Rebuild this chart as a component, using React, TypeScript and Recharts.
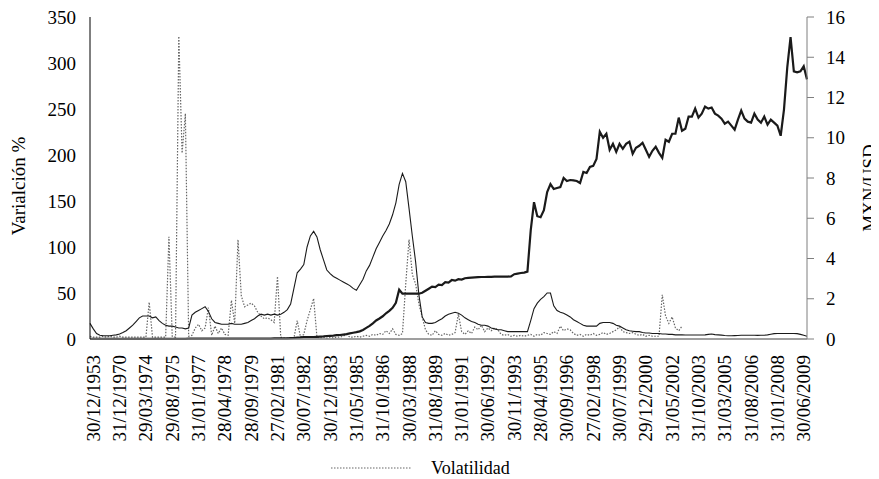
import { ComposedChart, Line, XAxis, YAxis, Legend } from 'recharts';

const FONT = '"Liberation Serif", "Times New Roman", Tinos, "DejaVu Serif", serif';

// fechas que se rotulan en el eje (una cada 8 observaciones)
const tickLabels = [
  '30/12/1953', '31/12/1970', '29/03/1974', '29/08/1975', '31/01/1977', '28/04/1978', '28/09/1979',
  '27/02/1981', '30/07/1982', '30/12/1983', '31/05/1985', '31/10/1986', '30/03/1988', '31/08/1989',
  '31/01/1991', '30/06/1992', '30/11/1993', '28/04/1995', '30/09/1996', '27/02/1998', '30/07/1999',
  '29/12/2000', '31/05/2002', '31/10/2003', '31/03/2005', '31/08/2006', '31/01/2008', '30/06/2009',
];

// variación % (eje izquierdo)
const variacion = [
  17, 11, 6, 4, 3.5, 3.5, 3.5, 4, 4.5, 5.5,
  7, 9, 12, 15, 19, 23, 25, 25, 25, 23,
  24, 20, 17, 15, 14, 14, 13, 12, 12, 11,
  12, 26, 29, 31, 33, 35, 30, 22, 18, 17,
  16, 16, 16, 17, 16, 16, 16, 17, 18, 20,
  22, 25, 27, 26, 27, 26, 27, 26, 27, 29,
  32, 38, 55, 72, 76, 81, 100, 112, 117, 111,
  97, 86, 75, 71, 68, 66, 64, 62, 60, 58,
  55, 53, 59, 65, 74, 80, 89, 98, 105, 112,
  118, 125, 135, 148, 168, 180, 171, 142, 112, 84,
  48, 24, 18, 17, 17, 18, 20, 22, 25, 27,
  28, 29, 28, 26, 23, 21, 19, 18, 16, 15,
  15, 14, 12, 11, 10, 10, 9, 8, 8, 8,
  8, 8, 8, 8, 20, 33, 39, 43, 46, 50,
  50, 36, 31, 29, 28, 26, 24, 21, 19, 17,
  15, 14, 14, 14, 14, 17, 18, 18, 18, 17,
  15, 14, 12, 10, 9, 8.5, 8, 8, 7, 6.5,
  6.5, 6, 6, 6, 5.5, 5.5, 5, 5, 4.5, 4.5,
  4.5, 4.3, 4.3, 4.3, 4.3, 4.3, 4.3, 4.5, 5, 5.4,
  4.8, 4.5, 4.2, 3.8, 3.6, 3.6, 3.7, 3.8, 4, 4,
  4, 4, 4, 3.9, 4, 4, 4.5, 5.2, 5.8, 6,
  6, 6, 6, 6, 6, 5.8, 5, 4, 3,
];

// MXN/USD (eje derecho)
const tipoCambio = [
  0.01, 0.01, 0.01, 0.01, 0.01, 0.01, 0.01, 0.01, 0.01, 0.01,
  0.01, 0.01, 0.01, 0.01, 0.01, 0.01, 0.01, 0.01, 0.01, 0.01,
  0.01, 0.01, 0.01, 0.01, 0.01, 0.01, 0.01, 0.01, 0.01, 0.01,
  0.02, 0.02, 0.02, 0.02, 0.02, 0.02, 0.02, 0.02, 0.02, 0.02,
  0.02, 0.02, 0.02, 0.02, 0.02, 0.02, 0.02, 0.02, 0.02, 0.02,
  0.02, 0.02, 0.02, 0.02, 0.02, 0.02, 0.03, 0.03, 0.03, 0.03,
  0.03, 0.04, 0.05, 0.07, 0.08, 0.1, 0.1, 0.1, 0.1, 0.11,
  0.12, 0.13, 0.15, 0.16, 0.17, 0.19, 0.2, 0.22, 0.24, 0.28,
  0.31, 0.34, 0.38, 0.45, 0.55, 0.65, 0.78, 0.92, 1.02, 1.13,
  1.28, 1.4, 1.55, 1.8, 2.45, 2.25, 2.25, 2.25, 2.25, 2.25,
  2.25, 2.3, 2.4, 2.5, 2.6, 2.58, 2.7, 2.68, 2.82, 2.8,
  2.93, 2.9, 2.97, 2.95, 3.02, 3.04, 3.05, 3.06, 3.07, 3.08,
  3.08, 3.09, 3.09, 3.1, 3.1, 3.1, 3.1, 3.1, 3.11, 3.22,
  3.25, 3.28, 3.3, 3.35, 5.4, 6.8, 6.1, 6.05, 6.4, 7.3,
  7.7, 7.45, 7.5, 7.55, 8.0, 7.85, 7.9, 7.88, 7.85, 7.75,
  8.3, 8.25, 8.55, 8.6, 8.95, 10.3, 10.0, 10.2, 9.4, 9.7,
  9.3, 9.7, 9.45, 9.7, 9.8, 9.2, 9.5, 9.6, 9.75, 9.4,
  9.05, 9.35, 9.55, 9.25, 9.0, 9.9, 9.8, 10.2, 10.2, 11.0,
  10.35, 10.45, 11.05, 11.05, 11.45, 11.0, 11.2, 11.55, 11.45, 11.5,
  11.2, 11.1, 10.95, 10.7, 10.8, 10.6, 10.4, 10.9, 11.35, 10.95,
  10.8, 10.75, 11.2, 10.9, 10.75, 11.05, 10.65, 10.9, 10.75, 10.6,
  10.1, 11.4, 13.5, 15.0, 13.3, 13.25, 13.3, 13.55, 12.9,
];

// volatilidad (eje izquierdo), termina en 2002
const volatilidad = [
  3, 2, 2, 2, 3, 2, 3, 2, 2, 3,
  2, 2, 2, 2, 2, 2, 2, 2, 40, 2,
  2, 2, 2, 2, 111, 3, 2, 329, 202, 245,
  3, 4, 12, 16, 9, 12, 34, 4, 14, 6,
  12, 5, 4, 42, 17, 108, 47, 35, 37, 39,
  36, 29, 25, 22, 23, 21, 18, 68, 2, 1,
  1, 1, 1, 20, 2, 5, 20, 32, 44, 2,
  1, 2, 1, 2, 1, 2, 2, 3, 5, 2,
  2, 3, 2, 3, 4, 3, 5, 4, 6, 5,
  9, 6, 11, 5, 4, 6, 60, 108, 70, 60,
  38, 24, 10, 5, 4, 9, 5, 4, 6, 4,
  5, 7, 27, 8, 5, 9, 6, 13, 10, 15,
  8, 12, 9, 12, 10, 5, 4, 5, 3, 4,
  3, 4, 3, 4, 5, 3, 5, 4, 7, 6,
  5, 8, 6, 14, 9, 11, 10, 6, 4, 5,
  3, 5, 4, 6, 4, 5, 7, 5, 6, 8,
  10, 13, 8, 7, 6, 7, 5, 4, 5, 3,
  4, 3, 3, 3, 48, 25, 17, 24, 12, 9,
  14,
];

const leftTicks = [0, 50, 100, 150, 200, 250, 300, 350];
const rightTicks = [0, 2, 4, 6, 8, 10, 12, 14, 16];

const data = variacion.map((v, i) => ({
  i,
  variacion: v,
  tipoCambio: tipoCambio[i],
  volatilidad: i < volatilidad.length ? volatilidad[i] : null,
}));

const tickIdx = tickLabels.map((_, k) => 1 + k * 8);

const DateTick = (props: any) => {
  const { x, y, payload } = props;
  const label = tickLabels[(payload.value - 1) / 8];
  return (
    <text
      x={x}
      y={y}
      transform={`rotate(-90 ${x} ${y})`}
      textAnchor="end"
      dominantBaseline="central"
      fontSize={19}
      style={{ fontFamily: FONT }}
      fill="#000"
    >
      {label}
    </text>
  );
};

const LeftTitle = () => (
  <text x={10} y={178} transform="rotate(-90 10 178)" textAnchor="middle" dominantBaseline="central"
    fontSize={19} style={{ fontFamily: FONT }} fill="#000">
    Varialción %
  </text>
);

const RightTitle = () => (
  <text x={861} y={180} transform="rotate(-90 861 180)" textAnchor="middle" dominantBaseline="central"
    fontSize={19} style={{ fontFamily: FONT }} fill="#000">
    MXN/USD
  </text>
);

const LegendContent = () => (
  <div style={{ display: 'flex', alignItems: 'center', height: 22, fontFamily: FONT, fontSize: 18, color: '#000' }}>
    <svg width={82} height={10}>
      <line x1={1} y1={5} x2={81} y2={5} stroke="#666" strokeWidth={1.2} strokeDasharray="1.5 1.5" />
    </svg>
    <span style={{ marginLeft: 19 }}>Volatilidad</span>
  </div>
);

const tickStyle = { fill: '#000', fontSize: 19, style: { fontFamily: FONT } };

export default function App() {
  return (
    <div style={{ width: 871, height: 471, fontFamily: FONT }}>
      <ComposedChart width={871} height={471} data={data} margin={{ top: 9, right: 0, bottom: 0, left: 0 }}
        style={{ fontFamily: FONT }}>
        <XAxis
          type="number"
          dataKey="i"
          domain={[0, 218]}
          ticks={tickIdx}
          interval={0}
          height={140}
          tickSize={0}
          tickMargin={16}
          tickLine={false}
          tick={(p: any) => <DateTick {...p} />}
          axisLine={{ stroke: '#7f7f7f', strokeWidth: 1.5 }}
        />
        <YAxis
          yAxisId="left"
          domain={[0, 350]}
          ticks={leftTicks}
          interval={0}
          width={82}
          tickLine={false}
          tickSize={6}
          tickMargin={8}
          axisLine={{ stroke: '#000' }}
          tick={tickStyle}
          label={{ content: LeftTitle }}
        />
        <YAxis
          yAxisId="right"
          orientation="right"
          domain={[0, 16]}
          ticks={rightTicks}
          interval={0}
          width={72}
          tickSize={7}
          tickMargin={12}
          tickLine={{ stroke: '#7f7f7f' }}
          axisLine={{ stroke: '#7f7f7f' }}
          tick={tickStyle}
          label={{ content: RightTitle }}
        />
        <Line
          yAxisId="left"
          type="linear"
          dataKey="volatilidad"
          name="Volatilidad"
          stroke="#666"
          strokeWidth={1.2}
          strokeDasharray="1.5 1.5"
          dot={false}
          activeDot={false}
          connectNulls={false}
          isAnimationActive={false}
        />
        <Line
          yAxisId="left"
          type="linear"
          dataKey="variacion"
          name="Variación %"
          stroke="#1a1a1a"
          strokeWidth={1.1}
          dot={false}
          activeDot={false}
          isAnimationActive={false}
        />
        <Line
          yAxisId="right"
          type="linear"
          dataKey="tipoCambio"
          name="MXN/USD"
          stroke="#1a1a1a"
          strokeWidth={2.2}
          dot={false}
          activeDot={false}
          isAnimationActive={false}
        />
        <Legend
          verticalAlign="middle"
          align="center"
          layout="horizontal"
          wrapperStyle={{ top: 449, left: 322, width: 240, height: 22 }}
          content={LegendContent}
        />
      </ComposedChart>
    </div>
  );
}
